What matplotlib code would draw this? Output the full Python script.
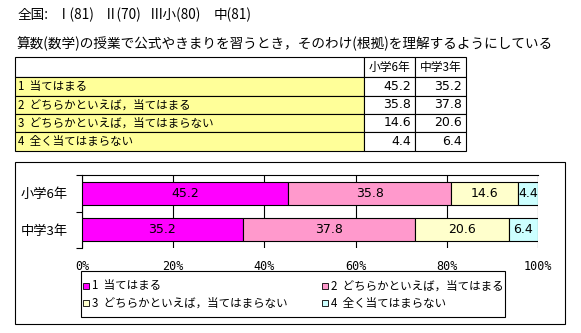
import matplotlib
matplotlib.use("Agg")
import matplotlib.pyplot as plt
from matplotlib.patches import Rectangle

plt.rcParams['font.family'] = ['Noto Sans CJK JP', 'DejaVu Sans']

# ---- data ----
header_parts = ["全国:", "Ⅰ(81)", "Ⅱ(70)", "Ⅲ小(80)", "中(81)"]
question = "算数(数学)の授業で公式やきまりを習うとき，そのわけ(根拠)を理解するようにしている"
groups = ["小学6年", "中学3年"]
responses = ["1  当てはまる", "2  どちらかといえば，当てはまる",
             "3  どちらかといえば，当てはまらない", "4  全く当てはまらない"]
elem6 = [45.2, 35.8, 14.6, 4.4]
jhs3 = [35.2, 37.8, 20.6, 6.4]
seg_colors = ["#FF00FF", "#FF99CC", "#FFFFCC", "#CCFFFF"]
xticks = [0, 20, 40, 60, 80, 100]

W, H = 581, 333
fig = plt.figure(figsize=(W / 100, H / 100), dpi=100)


def fx(x):
    return x / W


def fy(y):
    return 1 - y / H


def frect(x0, y0, x1, y1, **kw):
    r = Rectangle((fx(x0), fy(y1)), fx(x1) - fx(x0), fy(y0) - fy(y1),
                  transform=fig.transFigure, **kw)
    fig.add_artist(r)
    return r


# ---- heading lines ----
for part, x in zip(header_parts, [18, 57, 104, 150, 214]):
    fig.text(fx(x), fy(15), part, fontsize=9.8, va="center", ha="left")
fig.text(fx(17), fy(44), question, fontsize=9.8, va="center", ha="left")

# ---- table ----
col_x = [15, 364, 415, 466]
row_y = [57, 77, 96, 114, 132, 151]
for r in range(5):
    for c in range(3):
        face = "#FFFF99" if (c == 0 and r > 0) else "white"
        frect(col_x[c], row_y[r], col_x[c + 1], row_y[r + 1],
              facecolor=face, edgecolor="black", linewidth=0.8)
for c, g in enumerate(groups):
    fig.text(fx((col_x[c + 1] + col_x[c + 2]) / 2), fy((row_y[0] + row_y[1]) / 2),
             g, fontsize=8.5, ha="center", va="center")
values_by_group = [elem6, jhs3]
for r, label in enumerate(responses):
    yc = fy((row_y[r + 1] + row_y[r + 2]) / 2)
    fig.text(fx(col_x[0] + 3), yc, label, fontsize=8.3, ha="left", va="center")
    for c in range(2):
        fig.text(fx(col_x[c + 2] - 4), yc, f"{values_by_group[c][r]:.1f}",
                 fontsize=9, ha="right", va="center", family="DejaVu Sans")

# ---- chart frame ----
frect(15, 162, 565, 324, facecolor="none", edgecolor="black", linewidth=0.8)

# ---- stacked bar chart ----
ax = fig.add_axes([fx(82), fy(248), fx(538) - fx(82), fy(175) - fy(248)])
ypos = [0.5, 1.5]
lefts = [0.0, 0.0]
for k in range(4):
    widths = [elem6[k], jhs3[k]]
    ax.barh(ypos, widths, left=lefts, height=0.63, color=seg_colors[k],
            edgecolor="black", linewidth=0.8, zorder=3)
    for i in range(2):
        ax.text(lefts[i] + widths[i] / 2, ypos[i], f"{widths[i]:.1f}",
                ha="center", va="center", fontsize=9, family="DejaVu Sans",
                zorder=4)
    lefts = [lefts[i] + widths[i] for i in range(2)]

ax.set_xlim(0, 100)
ax.set_ylim(2, 0)
ax.set_xticks(xticks)
ax.set_xticklabels([f"{t}%" for t in xticks], family="DejaVu Sans Mono", fontsize=8.5)
ax.tick_params(axis="x", length=0, pad=9)
ax.set_yticks([0, 1, 2])
ax.set_yticklabels([])
ax.tick_params(axis="y", direction="out", length=4, width=0.8)
ax.set_yticks(ypos, minor=True)
ax.set_yticklabels(groups, minor=True, fontsize=9.5)
ax.tick_params(axis="y", which="minor", length=0, pad=10)
ax.grid(axis="x", color="black", linewidth=0.8, zorder=0)
for s in ax.spines.values():
    s.set_linewidth(0.8)
ax.spines["right"].set_visible(False)
ax.spines["bottom"].set_visible(False)

# ---- legend (two rows of two entries) ----
frect(81, 271, 505, 317, facecolor="white", edgecolor="black", linewidth=0.8)
entry_x = [83, 322]
entry_y = [286, 303]
for k in range(4):
    x0 = entry_x[k % 2]
    yc = entry_y[k // 2]
    frect(x0, yc - 3, x0 + 6, yc + 3, facecolor=seg_colors[k],
          edgecolor="black", linewidth=0.6)
    fig.text(fx(x0 + 9), fy(yc), responses[k], fontsize=8.3,
             ha="left", va="center")

fig.savefig("out.png", dpi=100)
